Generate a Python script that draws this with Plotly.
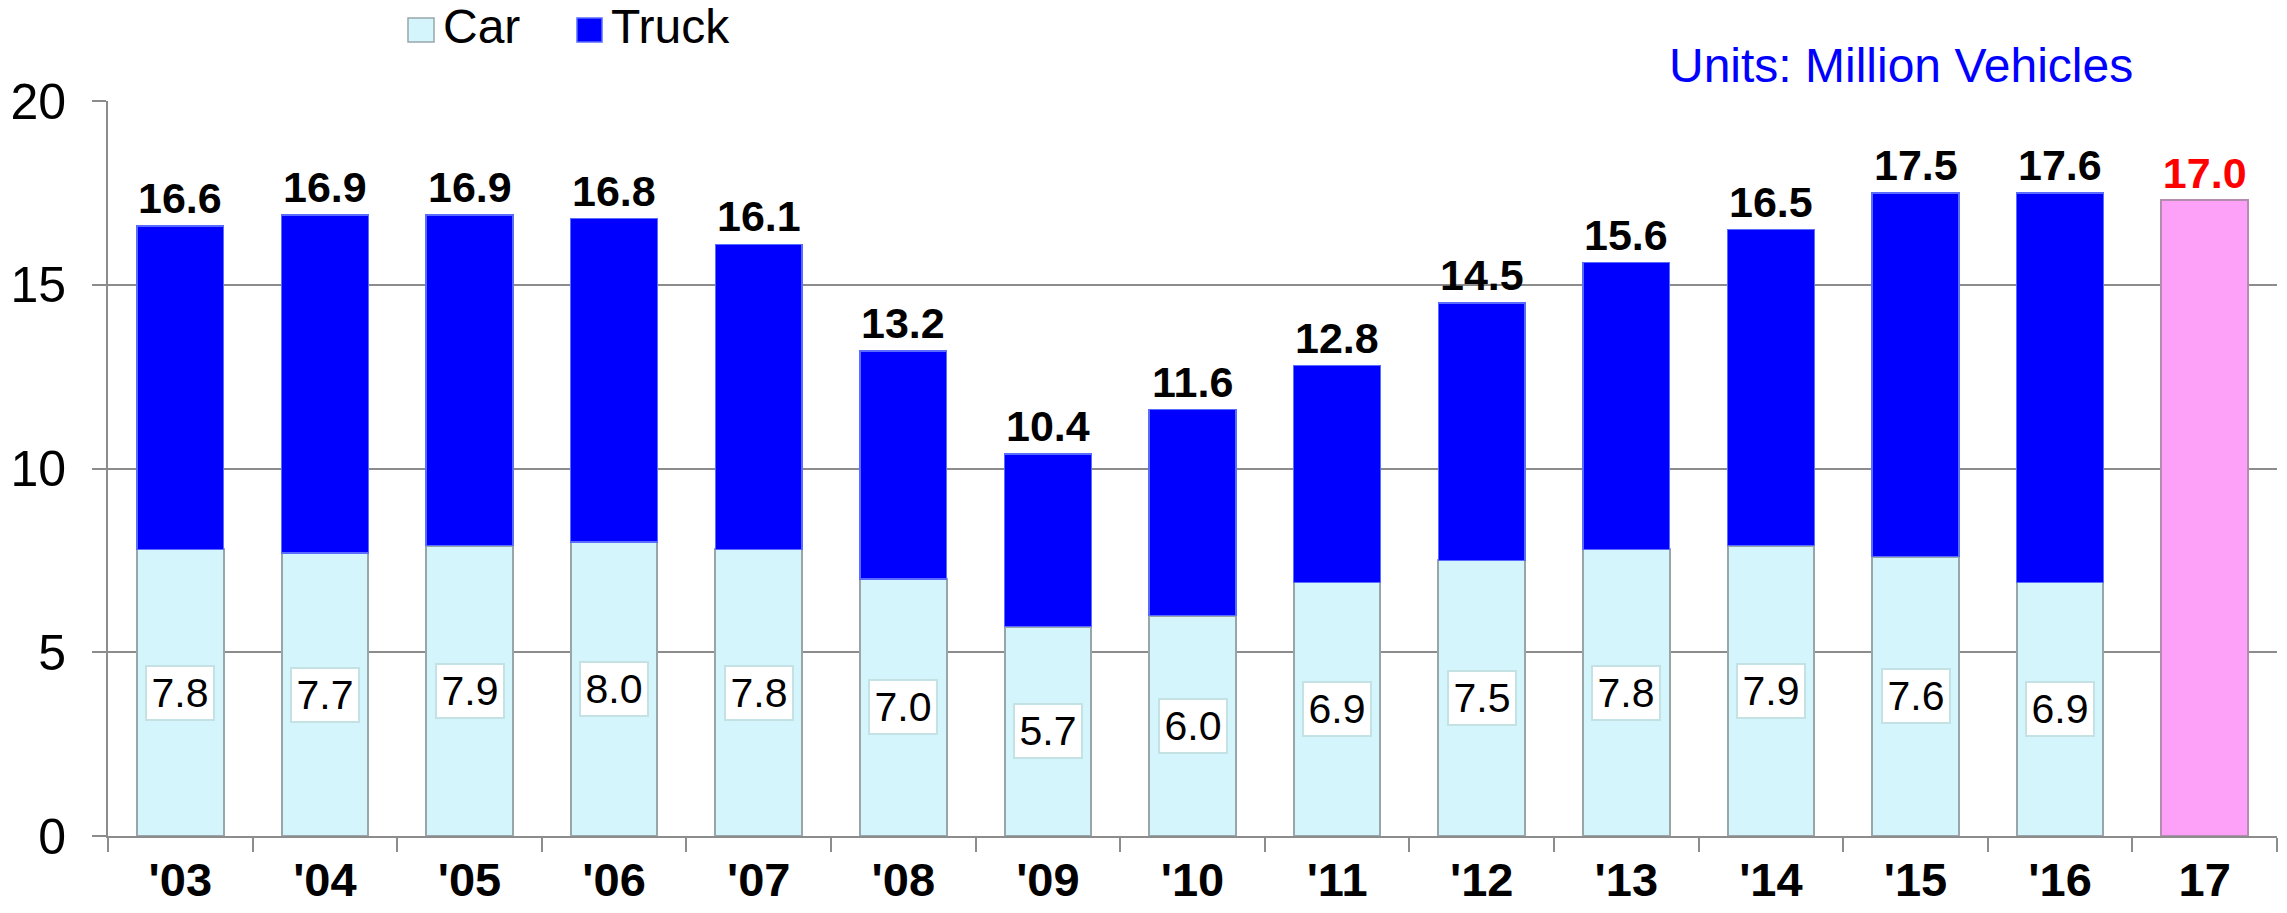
import plotly.graph_objects as go

years = ["'03", "'04", "'05", "'06", "'07", "'08", "'09", "'10", "'11", "'12", "'13", "'14", "'15", "'16"]
car = [7.8, 7.7, 7.9, 8.0, 7.8, 7.0, 5.7, 6.0, 6.9, 7.5, 7.8, 7.9, 7.6, 6.9]
truck = [8.8, 9.2, 9.0, 8.8, 8.3, 6.2, 4.7, 5.6, 5.9, 7.0, 7.8, 8.6, 9.9, 10.6]
total_labels = ["16.6", "16.9", "16.9", "16.8", "16.1", "13.2", "10.4", "11.6", "12.8", "14.5", "15.6", "16.5", "17.5", "17.6"]
car_labels = ["7.8", "7.7", "7.9", "8.0", "7.8", "7.0", "5.7", "6.0", "6.9", "7.5", "7.8", "7.9", "7.6", "6.9"]
forecast_cat = ["17"]
forecast_val = [17.3]
forecast_label = ["17.0"]
y_ticks = [0, 5, 10, 15, 20]

FONT = "Liberation Sans, Arial, sans-serif"
CAR_COLOR = "#d5f5fc"
TRUCK_COLOR = "#0000ff"
PINK = "#fda0f7"

fig = go.Figure()
fig.add_trace(go.Bar(
    x=years, y=car, name="Car", marker=dict(color=CAR_COLOR, line=dict(color="#98a6aa", width=2)),
    showlegend=False,
))
fig.add_trace(go.Bar(
    x=years, y=truck, name="Truck", marker=dict(color=TRUCK_COLOR, line=dict(color="#5a6cff", width=1.5)),
    showlegend=False,
))
fig.add_trace(go.Bar(
    x=forecast_cat, y=forecast_val, name="Forecast", marker=dict(color=PINK, line=dict(color="#b48cb0", width=2)),
    text=forecast_label, textposition="outside", constraintext="none", cliponaxis=False,
    textfont=dict(family=FONT, size=43, color="#ff0000", weight="bold"),
    showlegend=False,
))

# total labels above stacks
for yr, c, t, lab in zip(years, car, truck, total_labels):
    fig.add_annotation(
        x=yr, y=c + t, xref="x", yref="y", text=lab, showarrow=False,
        font=dict(family=FONT, size=43, color="black", weight="bold"),
        xanchor="center", yanchor="bottom", yshift=2,
    )

# car value boxes
for yr, v, lab in zip(years, car, car_labels):
    fig.add_annotation(
        x=yr, y=v / 2, xref="x", yref="y", text=lab, showarrow=False,
        font=dict(family=FONT, size=41, color="black"),
        bgcolor="white", bordercolor="#c4e2e4", borderwidth=2, borderpad=1,
        width=64, height=50, xanchor="center", yanchor="middle",
    )

# units note
fig.add_annotation(
    x=0.8267, y=1.048, xref="paper", yref="paper", text="Units: Million Vehicles",
    showarrow=False, font=dict(family=FONT, size=48, color="#0000ff"),
    xanchor="center", yanchor="middle",
)

# manual legend
L = 108.0
W = 2169.0
T = 101.0
H = 735.0
def px(x):
    return (x - L) / W
def py(y):
    return 1 + (T - y) / H

fig.add_shape(type="rect", xref="paper", yref="paper", x0=px(408), x1=px(434), y0=py(42), y1=py(18),
              fillcolor=CAR_COLOR, line=dict(color="#98a6aa", width=1.5))
fig.add_shape(type="rect", xref="paper", yref="paper", x0=px(577), x1=px(602), y0=py(42), y1=py(18),
              fillcolor=TRUCK_COLOR, line=dict(color="#5a6cff", width=1.5))
fig.add_annotation(x=px(441), y=py(27), xref="paper", yref="paper", text="Car", showarrow=False,
                   font=dict(family=FONT, size=48, color="black"), xanchor="left", yanchor="middle")
fig.add_annotation(x=px(609), y=py(27), xref="paper", yref="paper", text="Truck", showarrow=False,
                   font=dict(family=FONT, size=48, color="black"), xanchor="left", yanchor="middle")

fig.update_layout(
    width=2287, height=913,
    margin=dict(l=108, r=10, t=101, b=77, pad=0, autoexpand=False),
    barmode="stack", bargap=0.4,
    paper_bgcolor="white", plot_bgcolor="white",
    showlegend=False,
    font=dict(family=FONT),
)
fig.update_xaxes(
    type="category",
    categoryorder="array", categoryarray=years + forecast_cat,
    range=[-0.5, len(years) + len(forecast_cat) - 0.5],
    automargin=False,
    showline=True, linecolor="#8c8c8c", linewidth=2,
    ticks="outside", tickson="boundaries", ticklen=14, tickcolor="#8c8c8c", tickwidth=2,
    tickfont=dict(family=FONT, size=47, color="black", weight="bold"),
    ticklabelstandoff=2,
    showgrid=False,
)
fig.update_yaxes(
    range=[0, 20], tickvals=y_ticks,
    automargin=False,
    showline=True, linecolor="#8c8c8c", linewidth=2,
    ticks="outside", ticklen=14, tickcolor="#8c8c8c", tickwidth=2,
    tickfont=dict(family=FONT, size=50, color="black"),
    ticklabelstandoff=16,
    showgrid=True, gridcolor="#8c8c8c", gridwidth=2, zeroline=False,
)

fig.write_html("out.html", config={"displayModeBar": False},
               post_script="document.body.style.margin='0';")
